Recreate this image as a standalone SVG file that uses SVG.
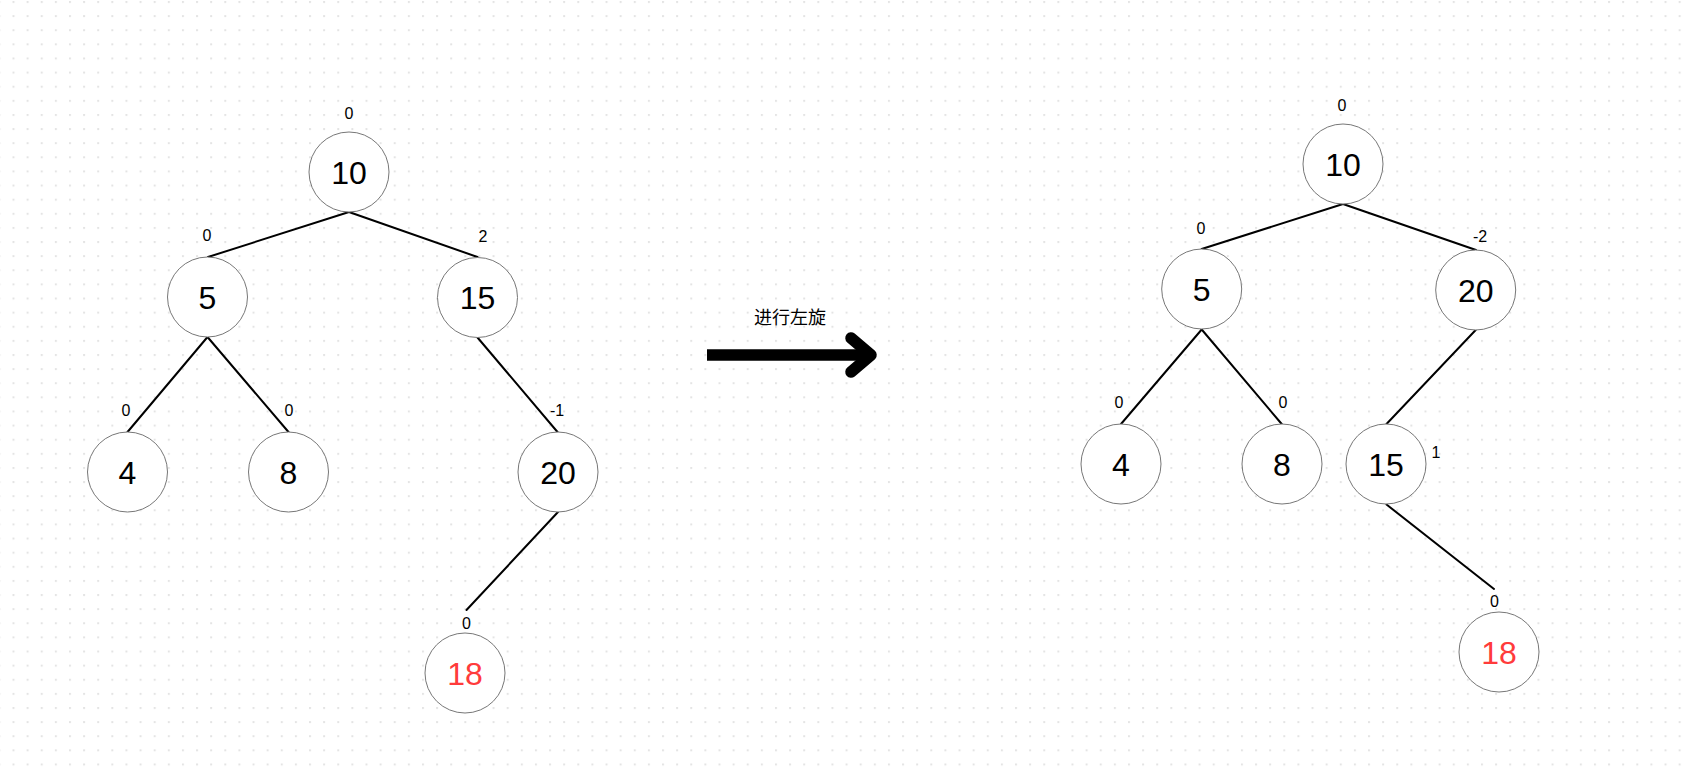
<svg xmlns="http://www.w3.org/2000/svg" width="1686" height="768" viewBox="0 0 1686 768">
<style>
.node circle{fill:#fff;stroke:#777;stroke-width:1}
.num{font-family:"Liberation Sans",Arial,sans-serif;font-size:32px;text-anchor:middle;fill:#000}
.red{fill:#ff3b3b}
.bf{font-family:"Liberation Sans",Arial,sans-serif;font-size:16px;text-anchor:middle;fill:#000}
.edges line{stroke:#000;stroke-width:2;stroke-linecap:round}
.cjk{font-family:"Liberation Sans","Noto Sans CJK SC",sans-serif;font-size:18px;text-anchor:middle;fill:#000}
</style>
<defs>
<pattern id="dots" patternUnits="userSpaceOnUse" x="12.5" y="1" width="14.12" height="14.12">
<rect x="0" y="0" width="2" height="2" fill="#e4e4e4"/>
</pattern>
</defs>
<rect width="1686" height="768" fill="#fff"/>
<rect width="1686" height="768" fill="url(#dots)"/>

<g id="connectors" class="edges">
<line x1="349" y1="212" x2="208" y2="257"/>
<line x1="349" y1="212" x2="477.5" y2="257"/>
<line x1="207.5" y1="337" x2="127.5" y2="432"/>
<line x1="207.5" y1="337" x2="288.5" y2="432"/>
<line x1="477.5" y1="337.5" x2="557.5" y2="432"/>
<line x1="558" y1="512" x2="466.5" y2="610"/>
<line x1="1343" y1="204" x2="1201.7" y2="249"/>
<line x1="1343" y1="204" x2="1476" y2="250"/>
<line x1="1201.7" y1="329.5" x2="1121" y2="424"/>
<line x1="1201.7" y1="329.5" x2="1281.7" y2="424"/>
<line x1="1475.7" y1="330" x2="1386.5" y2="424"/>
<line x1="1386.5" y1="504.5" x2="1494" y2="589"/>
</g>

<g id="rotate-arrow">
<text class="cjk" x="790" y="324">进行左旋</text>
<path d="M707 355 H866" fill="none" stroke="#000" stroke-width="11.5" stroke-linecap="butt"/>
<path d="M851 338 L871 355 L851 372" fill="none" stroke="#000" stroke-width="11.5" stroke-linecap="round" stroke-linejoin="round"/>
</g>

<!-- left tree -->
<g id="L10" class="node"><circle cx="349" cy="172" r="40"/><text class="num" x="349" y="183.5">10</text><text class="bf" x="349" y="119">0</text></g>
<g id="L5" class="node"><circle cx="207.5" cy="297" r="40"/><text class="num" x="207.5" y="308.5">5</text><text class="bf" x="207" y="241">0</text></g>
<g id="L15" class="node"><circle cx="477.5" cy="297.5" r="40"/><text class="num" x="477.5" y="309">15</text><text class="bf" x="483" y="242">2</text></g>
<g id="L4" class="node"><circle cx="127.5" cy="472" r="40"/><text class="num" x="127.5" y="483.5">4</text><text class="bf" x="126" y="416">0</text></g>
<g id="L8" class="node"><circle cx="288.5" cy="472" r="40"/><text class="num" x="288.5" y="483.5">8</text><text class="bf" x="289" y="416">0</text></g>
<g id="L20" class="node"><circle cx="558" cy="472" r="40"/><text class="num" x="558" y="483.5">20</text><text class="bf" x="557" y="416">-1</text></g>
<g id="L18" class="node"><circle cx="465" cy="673" r="40"/><text class="num red" x="465" y="684.5">18</text><text class="bf" x="466.5" y="629">0</text></g>

<!-- right tree -->
<g id="R10" class="node"><circle cx="1343" cy="164" r="40"/><text class="num" x="1343" y="175.5">10</text><text class="bf" x="1342" y="111">0</text></g>
<g id="R5" class="node"><circle cx="1201.7" cy="289" r="40"/><text class="num" x="1201.7" y="300.5">5</text><text class="bf" x="1201" y="234">0</text></g>
<g id="R20" class="node"><circle cx="1475.7" cy="290" r="40"/><text class="num" x="1475.7" y="301.5">20</text><text class="bf" x="1480" y="242">-2</text></g>
<g id="R4" class="node"><circle cx="1121" cy="464" r="40"/><text class="num" x="1121" y="475.5">4</text><text class="bf" x="1119" y="408">0</text></g>
<g id="R8" class="node"><circle cx="1282" cy="464" r="40"/><text class="num" x="1282" y="475.5">8</text><text class="bf" x="1283" y="408">0</text></g>
<g id="R15" class="node"><circle cx="1386" cy="464" r="40"/><text class="num" x="1386" y="475.5">15</text><text class="bf" x="1436" y="458">1</text></g>
<g id="R18" class="node"><circle cx="1499" cy="652" r="40"/><text class="num red" x="1499" y="663.5">18</text><text class="bf" x="1494.5" y="607">0</text></g>
</svg>
